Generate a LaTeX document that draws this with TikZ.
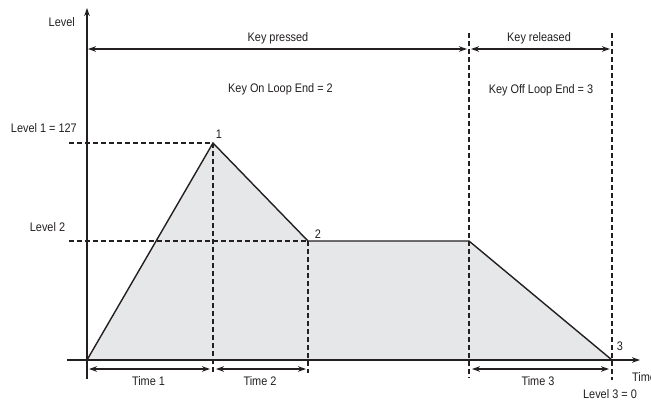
\documentclass[tikz,border=0pt]{standalone}
\usepackage{fontspec}
\setmainfont{Liberation Sans}[FakeStretch=0.88]
\usetikzlibrary{arrows.meta}
\definecolor{envfill}{HTML}{E6E7E8}
\definecolor{ink}{HTML}{231F20}
\begin{document}
\begin{tikzpicture}[x=1pt,y=-1pt,
  axis/.style={draw=ink,line width=1.5pt,-{Stealth[length=8pt,width=5.5pt]}},
  env/.style={draw=ink,line width=1.4pt,line join=miter},
  guide/.style={draw=ink,line width=1.2pt,dash pattern=on 5pt off 3pt},
  span/.style={draw=ink,line width=1.3pt,{Stealth[length=8pt,width=5.5pt]}-{Stealth[length=8pt,width=5.5pt]}},
  lbl/.style={font=\fontsize{12.4}{14}\selectfont,text=ink,inner sep=0pt}]
\useasboundingbox (0,0) rectangle (651,402);
% key points
\coordinate (o) at (87,360);
\coordinate (p1) at (213,143);
\coordinate (p2) at (308,241);
\coordinate (p2e) at (469,241);
\coordinate (p3) at (612,360);
\coordinate (ytop) at (87,8);
\coordinate (ybot) at (87,379);
\coordinate (xl) at (67,360);
\coordinate (xr) at (640,360);
% fill
\fill[envfill] (o) -- (p1) -- (p2) -- (p2e) -- (p3) -- cycle;
% guides
\coordinate (h1) at (69,143);
\coordinate (h2) at (69,241);
\coordinate (v1b) at (213,372);
\coordinate (v2b) at (308,373);
\coordinate (v3t) at (469,33);
\coordinate (v3b) at (469,378);
\coordinate (v4t) at (612,33);
\coordinate (v4b) at (612,380);
\draw[guide] (h1) -- (p1);
\draw[guide] (h2) -- (p2);
\draw[guide] (p1) -- (v1b);
\draw[guide] (p2) -- (v2b);
\draw[guide] (v3t) -- (v3b);
\draw[guide] (v4t) -- (v4b);
% axes
\draw[axis] (ybot) -- (ytop);
\draw[axis] (xl) -- (xr);
% envelope
\draw[env] (o) -- (p1) -- (p2) -- (p2e) -- (p3);
% spans
\coordinate (kpa) at (88,49);
\coordinate (kpb) at (467,49);
\coordinate (kra) at (471,49);
\coordinate (krb) at (610,49);
\draw[span] (kpa) -- (kpb);
\draw[span] (kra) -- (krb);
\coordinate (t1a) at (89,369);
\coordinate (t1b) at (210,369);
\coordinate (t2a) at (216,369);
\coordinate (t2b) at (306,369);
\coordinate (t3a) at (472,369);
\coordinate (t3b) at (609,369);
\draw[span] (t1a) -- (t1b);
\draw[span] (t2a) -- (t2b);
\draw[span] (t3a) -- (t3b);
% labels
\node[lbl,anchor=east] (lev) at (75,22) {Level};
\node[lbl] (kp) at (278,38) {Key pressed};
\node[lbl] (kon) at (280.5,89) {Key On Loop End = 2};
\node[lbl] (kr) at (539,38) {Key released};
\node[lbl] (koff) at (541,90) {Key Off Loop End = 3};
\node[lbl,anchor=east] (l1) at (77,128) {Level 1 = 127};
\node[lbl] (l2) at (47.5,227) {Level 2};
\node[lbl] (n1) at (219,134) {1};
\node[lbl] (n2) at (318,234) {2};
\node[lbl] (n3) at (620,346) {3};
\node[lbl] (tt1) at (148.5,381) {Time 1};
\node[lbl] (tt2) at (260,381) {Time 2};
\node[lbl] (tt3) at (538,381) {Time 3};
\node[lbl,anchor=west] (tm) at (632,377) {Time};
\node[lbl] (l3) at (610,394) {Level 3 = 0};
\end{tikzpicture}
\end{document}
